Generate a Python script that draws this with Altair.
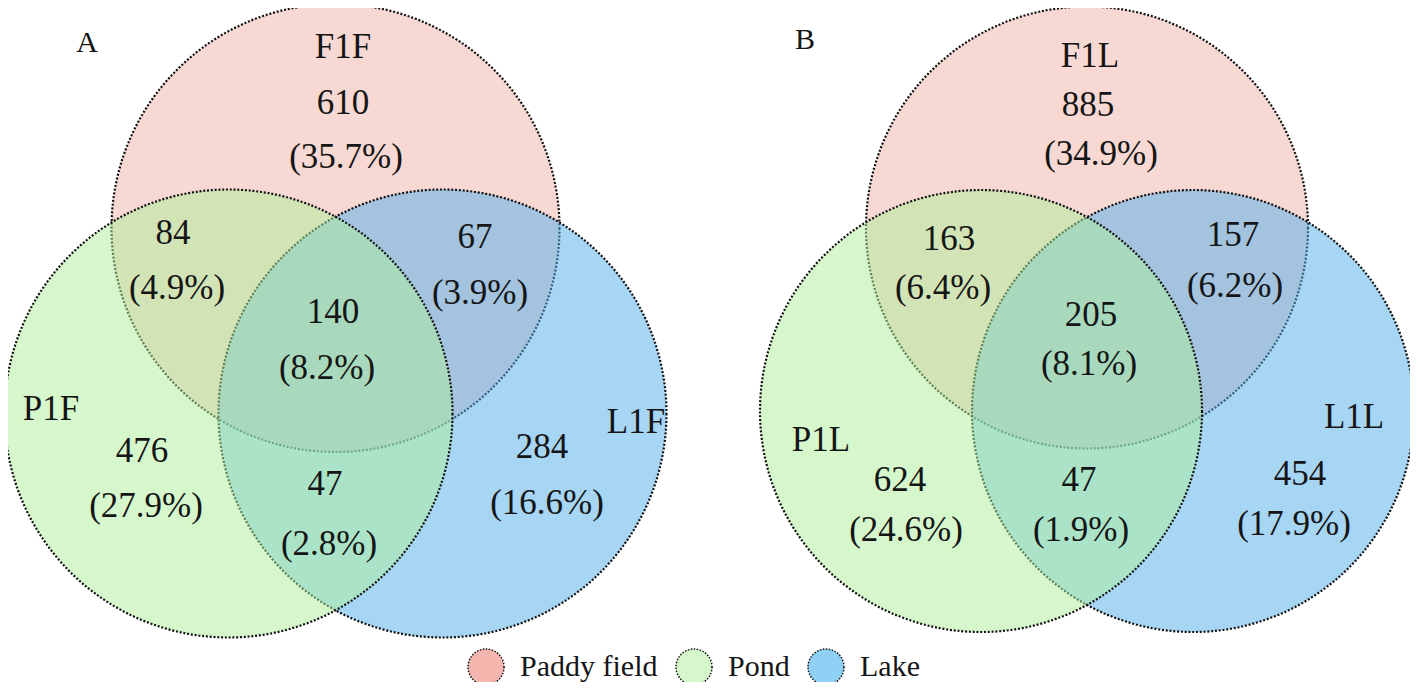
import altair as alt
import pandas as pd

FONT = "Liberation Serif"
TEXT_COLOR = "#151515"

# ---- sets / colours -------------------------------------------------------
set_names = ["Paddy field", "Pond", "Lake"]
venn_colors = ["#EFB1A5", "#ADEF99", "#50AEEB"]      # drawn at 50 % fill opacity
legend_colors = ["#F4B6AE", "#D6F7CC", "#90D0F5"]
draw_order = ["Paddy field", "Lake", "Pond"]          # pond on top

# ---- panel A ----------------------------------------------------------------
a_letter = "A"
a_set_labels = ["F1F", "P1F", "L1F"]                  # paddy, pond, lake
a_circle_x = [335.5, 228.5, 442.5]
a_circle_y = [228.0, 413.5, 413.5]
a_radius = 224
# regions: paddy only, paddy&pond, paddy&lake, all, pond only, pond&lake, lake only
a_counts = ["610", "84", "67", "140", "476", "47", "284"]
a_pcts = ["(35.7%)", "(4.9%)", "(3.9%)", "(8.2%)", "(27.9%)", "(2.8%)", "(16.6%)"]
a_count_x = [343, 173, 475, 333, 142, 325, 542]
a_count_y = [103, 233, 237, 312, 451, 484, 447]
a_pct_x = [346, 177, 480, 327, 146, 329, 547]
a_pct_y = [157, 288, 293, 368, 506, 544, 503]
a_setlabel_x = [343, 51, 636]
a_setlabel_y = [47, 409, 422]
a_letter_xy = [87, 43]

# ---- panel B ----------------------------------------------------------------
b_letter = "B"
b_set_labels = ["F1L", "P1L", "L1L"]
b_circle_x = [1087.0, 981.0, 1193.0]
b_circle_y = [227.5, 411.0, 411.0]
b_radius = 221
b_counts = ["885", "163", "157", "205", "624", "47", "454"]
b_pcts = ["(34.9%)", "(6.4%)", "(6.2%)", "(8.1%)", "(24.6%)", "(1.9%)", "(17.9%)"]
b_count_x = [1088, 949, 1233, 1091, 900, 1079, 1300]
b_count_y = [105, 239, 235, 315, 480, 480, 474]
b_pct_x = [1101, 943, 1235, 1089, 906, 1081, 1294]
b_pct_y = [154, 288, 286, 364, 530, 530, 524]
b_setlabel_x = [1090, 821, 1354]
b_setlabel_y = [56, 440, 417]
b_letter_xy = [805, 40]

# ---- tables -----------------------------------------------------------------
def circle_table(cx, cy):
    rows = []
    for s in draw_order:
        i = set_names.index(s)
        rows.append({"set": s, "x": cx[i], "y": cy[i]})
    return pd.DataFrame(rows)

def text_table(counts, pcts, cxs, cys, pxs, pys, labels, lxs, lys):
    rows = []
    for t, x, y in zip(counts, cxs, cys):
        rows.append({"text": t, "x": x, "y": y})
    for t, x, y in zip(pcts, pxs, pys):
        rows.append({"text": t, "x": x, "y": y})
    for t, x, y in zip(labels, lxs, lys):
        rows.append({"text": t, "x": x, "y": y})
    return rows

circ_a = circle_table(a_circle_x, a_circle_y)
circ_b = circle_table(b_circle_x, b_circle_y)
texts = pd.DataFrame(
    text_table(a_counts, a_pcts, a_count_x, a_count_y, a_pct_x, a_pct_y,
               a_set_labels, a_setlabel_x, a_setlabel_y)
    + text_table(b_counts, b_pcts, b_count_x, b_count_y, b_pct_x, b_pct_y,
                 b_set_labels, b_setlabel_x, b_setlabel_y)
)
letters = pd.DataFrame({"text": [a_letter, b_letter],
                        "x": [a_letter_xy[0], b_letter_xy[0]],
                        "y": [a_letter_xy[1], b_letter_xy[1]]})
legend_df = pd.DataFrame({"legend_set": set_names, "x": [700] * 3, "y": [340] * 3})

# ---- scales -----------------------------------------------------------------
X = alt.X("x:Q", scale=alt.Scale(domain=[8, 1410], nice=False, zero=False), axis=None)
Y = alt.Y("y:Q", scale=alt.Scale(domain=[8, 682], nice=False, zero=False, reverse=True), axis=None)
venn_fill = alt.Fill("set:N", scale=alt.Scale(domain=set_names, range=venn_colors), legend=None)


def circles(df, r):
    return alt.Chart(df).mark_point(
        shape="circle", filled=True, size=(2 * r) ** 2, opacity=1, fillOpacity=0.5,
        stroke="#111111", strokeWidth=2.2, strokeDash=[2, 1.8], strokeOpacity=1,
    ).encode(x=X, y=Y, fill=venn_fill)


text_layer = alt.Chart(texts).mark_text(
    font=FONT, fontSize=35, color=TEXT_COLOR, align="center", baseline="middle"
).encode(x=X, y=Y, text="text:N")

letter_layer = alt.Chart(letters).mark_text(
    font=FONT, fontSize=30, color=TEXT_COLOR, align="center", baseline="middle"
).encode(x=X, y=Y, text="text:N")

legend_layer = alt.Chart(legend_df).mark_point(
    shape="circle", filled=True, opacity=0
).encode(
    x=X, y=Y,
    fill=alt.Fill(
        "legend_set:N",
        scale=alt.Scale(domain=set_names, range=legend_colors),
        legend=alt.Legend(
            title=None, orient="none", legendX=459, legendY=640, direction="horizontal",
            symbolType="circle", symbolSize=1296, symbolOpacity=1,
            symbolStrokeColor="#111111", symbolStrokeWidth=1.5, symbolDash=[1.5, 1.5],
            labelFont=FONT, labelFontSize=30, labelColor=TEXT_COLOR,
            labelOffset=15, columnPadding=15, padding=0, labelLimit=0,
        ),
    ),
)

chart = alt.layer(
    circles(circ_a, a_radius), circles(circ_b, b_radius),
    text_layer, letter_layer, legend_layer,
).resolve_scale(fill="independent").properties(
    width=1402, height=674, autosize=alt.AutoSizeParams(type="none"), padding=0,
    background="white",
).configure_view(strokeWidth=0)

chart.save("out.html", embed_options={"renderer": "svg", "actions": False})
